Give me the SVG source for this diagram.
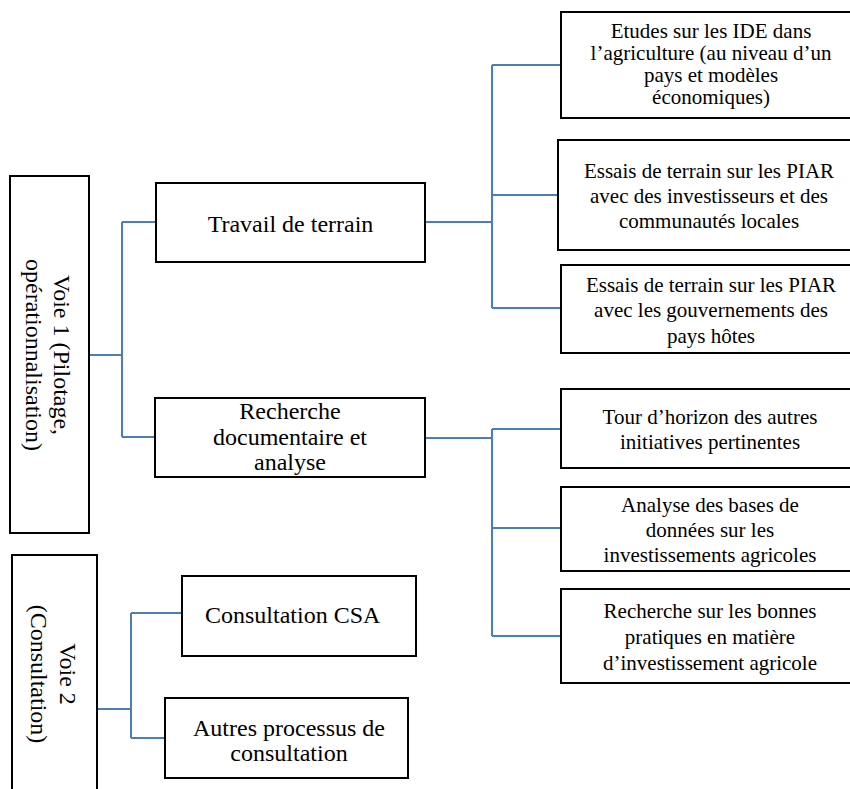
<svg xmlns="http://www.w3.org/2000/svg" width="850" height="789" viewBox="0 0 850 789">
<style>
.box{fill:#fff;stroke:#000;stroke-width:2}
.t{font-family:"Liberation Serif","Times New Roman",serif;fill:#000;text-anchor:middle}
.l{font-size:24px}
.s{font-size:21px}
.c{fill:none;stroke:#4A7EBB;stroke-width:2}
</style>
<rect width="850" height="789" fill="#fff"/>
<g id="connectors">
<path class="c" d="M89,355 H122 M122,222 V437 M122,222 H156 M122,437 H155"/>
<path class="c" d="M425,222 H492 M492,65 V308 M492,65 H561 M492,195 H558 M492,308 H561"/>
<path class="c" d="M425,438 H492 M492,429 V636 M492,429 H561 M492,528 H561 M492,636 H561"/>
<path class="c" d="M97,709 H131 M131,613 V738 M131,613 H182 M131,738 H165"/>
</g>
<g id="voie1">
<rect class="box" x="10" y="176" width="79" height="357"/>
<g transform="translate(49.5,355) rotate(90)">
<text class="t l" x="0" y="-4.5">Voie 1 (Pilotage,</text>
<text class="t l" x="0" y="23.5">opérationnalisation)</text>
</g>
</g>
<g id="voie2">
<rect class="box" x="12" y="555" width="85" height="250"/>
<g transform="translate(54.5,674) rotate(90)">
<text class="t l" x="0" y="-5.5">Voie 2</text>
<text class="t l" x="0" y="23.5">(Consultation)</text>
</g>
</g>
<g id="travail">
<rect class="box" x="156" y="183" width="269" height="79"/>
<text class="t l" x="290.5" y="232">Travail de terrain</text>
</g>
<g id="recherche">
<rect class="box" x="155" y="398" width="270" height="79"/>
<text class="t l" x="290" y="419">Recherche</text>
<text class="t l" x="290" y="445">documentaire et</text>
<text class="t l" x="290" y="470">analyse</text>
</g>
<g id="consultation-csa">
<rect class="box" x="182" y="576" width="234" height="80"/>
<text class="t l" x="205" y="623" style="text-anchor:start">Consultation CSA</text>
</g>
<g id="autres">
<rect class="box" x="165" y="698" width="243" height="80"/>
<text class="t l" x="289" y="736">Autres processus de</text>
<text class="t l" x="289" y="761">consultation</text>
</g>
<g id="etudes">
<rect class="box" x="561" y="12" width="310" height="106"/>
<text class="t s" x="711" y="38">Etudes sur les IDE dans</text>
<text class="t s" x="711" y="60">l’agriculture (au niveau d’un</text>
<text class="t s" x="711" y="82">pays et modèles</text>
<text class="t s" x="711" y="104">économiques)</text>
</g>
<g id="essais1">
<rect class="box" x="558" y="140" width="313" height="110"/>
<text class="t s" x="709" y="178">Essais de terrain sur les PIAR</text>
<text class="t s" x="709" y="203">avec des investisseurs et des</text>
<text class="t s" x="709" y="228">communautés locales</text>
</g>
<g id="essais2">
<rect class="box" x="561" y="265" width="310" height="88"/>
<text class="t s" x="711" y="292">Essais de terrain sur les PIAR</text>
<text class="t s" x="711" y="317">avec les gouvernements des</text>
<text class="t s" x="711" y="343">pays hôtes</text>
</g>
<g id="tour">
<rect class="box" x="561" y="389" width="310" height="79"/>
<text class="t s" x="710" y="424">Tour d’horizon des autres</text>
<text class="t s" x="710" y="449">initiatives pertinentes</text>
</g>
<g id="analyse">
<rect class="box" x="561" y="487" width="310" height="84"/>
<text class="t s" x="710" y="512">Analyse des bases de</text>
<text class="t s" x="710" y="537">données sur les</text>
<text class="t s" x="710" y="562">investissements agricoles</text>
</g>
<g id="bonnes-pratiques">
<rect class="box" x="561" y="589" width="310" height="94"/>
<text class="t s" x="710" y="618">Recherche sur les bonnes</text>
<text class="t s" x="710" y="644">pratiques en matière</text>
<text class="t s" x="710" y="670">d’investissement agricole</text>
</g>
</svg>
